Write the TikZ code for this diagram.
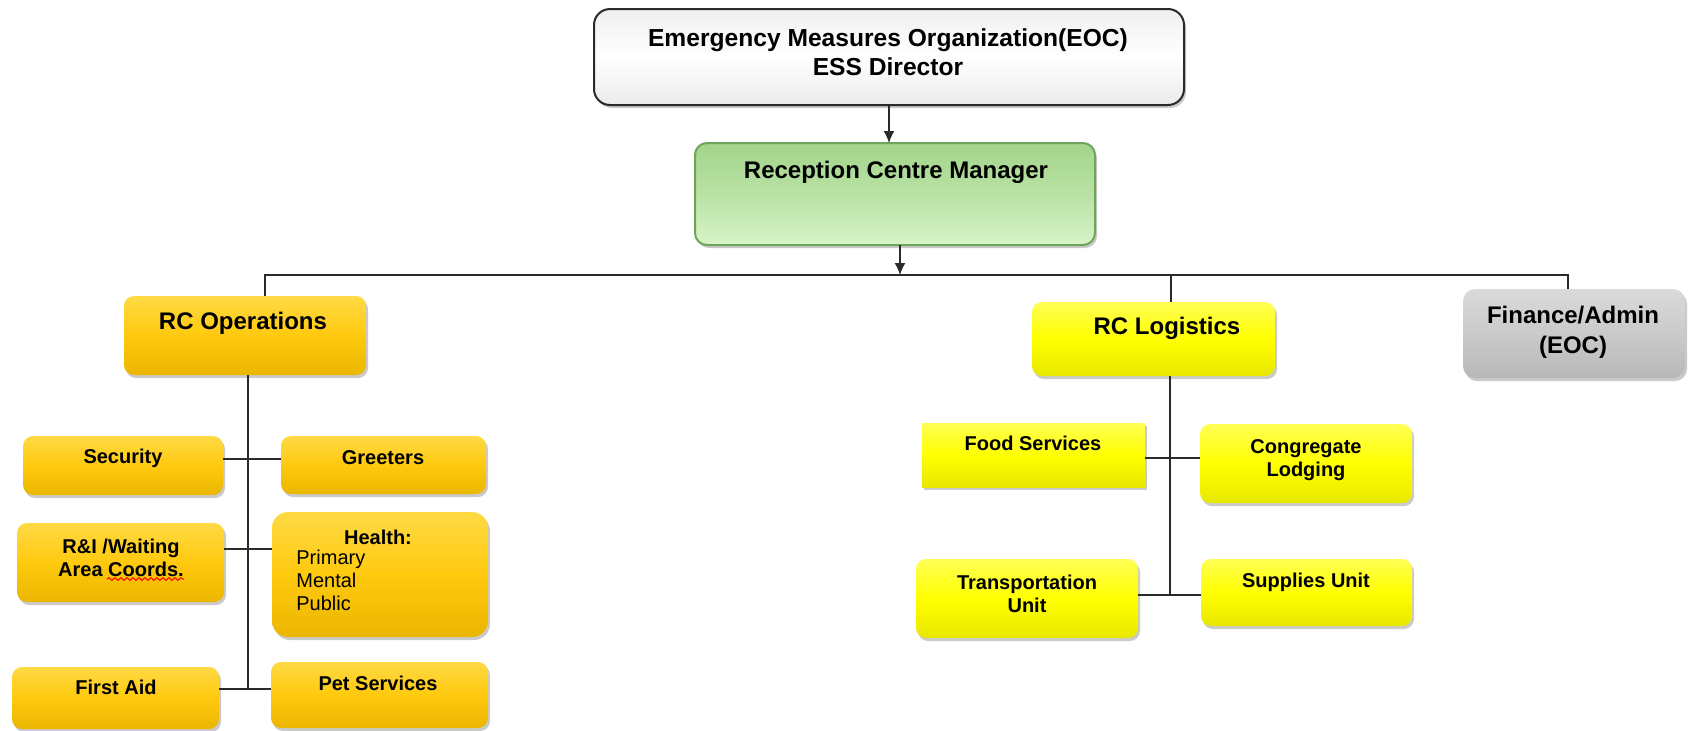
\documentclass[tikz,border=0pt]{standalone}
\usepackage{fontspec}
\setmainfont{Liberation Sans}
\usetikzlibrary{fit,shadows,arrows.meta,decorations.pathmorphing}
\definecolor{goldA}{HTML}{FFDA45}
\definecolor{goldB}{HTML}{FFC90E}
\definecolor{goldC}{HTML}{EBB600}
\definecolor{yelA}{HTML}{FFFF55}
\definecolor{yelB}{HTML}{FFFF00}
\definecolor{yelC}{HTML}{E8E800}
\definecolor{grnA}{HTML}{A2D48A}
\definecolor{grnB}{HTML}{B9E2A5}
\definecolor{grnC}{HTML}{D8F4C8}
\definecolor{grnD}{HTML}{6FA558}
\definecolor{gryA}{HTML}{DADADA}
\definecolor{gryB}{HTML}{CACACA}
\definecolor{gryC}{HTML}{B8B8B8}
\definecolor{linec}{HTML}{2A2A2A}
\tikzset{
  boxbase/.style={inner sep=0pt, outer sep=0pt,
    drop shadow={shadow xshift=1pt, shadow yshift=-1.5pt, opacity=0.35, fill=black!60}},
  goldbox/.style={boxbase, rounded corners=5pt, top color=goldA, bottom color=goldC, middle color=goldB},
  yelbox/.style={boxbase, rounded corners=5pt, top color=yelA, bottom color=yelC, middle color=yelB},
  yelsharp/.style={boxbase, top color=yelA, bottom color=yelC, middle color=yelB},
  grnbox/.style={boxbase, rounded corners=6pt, draw=grnD, line width=1pt, top color=grnA, bottom color=grnC, middle color=grnB},
  grybox/.style={boxbase, rounded corners=6pt, top color=gryA, bottom color=gryC, middle color=gryB},
  topbox/.style={boxbase, rounded corners=8pt, draw=linec, line width=1pt, top color=black!6, bottom color=black!8, middle color=white},
  bigtxt/.style={inner sep=0pt, align=center, font=\bfseries\fontsize{12}{15}\selectfont},
  toptxt/.style={inner sep=0pt, align=center, font=\bfseries\fontsize{12.3}{14.5}\selectfont},
  smtxt/.style={inner sep=0pt, align=center, font=\bfseries\fontsize{10}{11.5}\selectfont},
  listtxt/.style={inner sep=0pt, align=left, font=\fontsize{10}{11.5}\selectfont},
  conn/.style={draw=linec, line width=0.75pt},
  arr/.style={conn, -{Latex[length=6pt,width=5.5pt]}}
}
\begin{document}
\begin{tikzpicture}[x=0.5pt,y=-0.5pt]
\useasboundingbox (0,0) rectangle (1688,730);

% boxes
\node[topbox, fit={(594,9) (1184,105)}] (top) {};
\node[grnbox, fit={(695,143) (1095,245)}] (mgr) {};
\node[goldbox, fit={(124,296) (366,375)}] (ops) {};
\node[yelbox, fit={(1032,302) (1275,376)}] (log) {};
\node[grybox, fit={(1463,289) (1685,378)}] (fin) {};
\node[goldbox, fit={(23,436) (223,495)}] (sec) {};
\node[goldbox, fit={(281,436) (486,494)}] (gre) {};
\node[goldbox, fit={(17,523) (224,602)}] (ri) {};
\node[goldbox, rounded corners=8pt, fit={(272,512) (488,637)}] (hea) {};
\node[goldbox, fit={(12,667) (219,729)}] (fa) {};
\node[goldbox, fit={(271,662) (488,728)}] (pet) {};
\node[yelsharp, fit={(922,423) (1145,487)}] (food) {};
\node[yelbox, fit={(1200,424) (1412,503)}] (cong) {};
\node[yelbox, fit={(916,559) (1138,638)}] (trans) {};
\node[yelbox, fit={(1201,559) (1412,626)}] (sup) {};

% texts
\node[toptxt] (ttop) at (888,52.5) {Emergency Measures Organization(EOC)\\ESS Director};
\node[bigtxt] (tmgr) at (896,172) {Reception Centre Manager};
\node[bigtxt] (tops) at (243,323) {RC Operations};
\node[bigtxt] (tlog) at (1167,328) {RC Logistics};
\node[bigtxt] (tfin) at (1573,332) {Finance/Admin\\(EOC)};
\node[smtxt] (tsec) at (123,458) {Security};
\node[smtxt] (tgre) at (383,458) {Greeters};
\node[smtxt] (tri) at (121,557.5) {R\&I /Waiting\\Area Coords.};
\node[smtxt] (thea) at (378,537) {Health:};
\node[listtxt, anchor=north west] (thl) at (296,550) {Primary\\Mental\\Public};
\node[smtxt] (tfa) at (116,687) {First Aid};
\node[smtxt] (tpet) at (378,683) {Pet Services};
\node[smtxt] (tfood) at (1033,443) {Food Services};
\node[smtxt] (tcong) at (1306,460.5) {Congregate\\Lodging};
\node[smtxt] (ttrans) at (1027,593.5) {Transportation\\Unit};
\node[smtxt] (tsup) at (1306,582) {Supplies Unit};

% spell-check squiggle
\draw[red, line width=0.5pt, decorate, decoration={snake, amplitude=0.7pt, segment length=3pt}] (107,579) -- (184,579);

% junction coordinates
\coordinate (j0) at (900,275);
\coordinate (hL) at (265,275);
\coordinate (hM) at (1171,275);
\coordinate (hR) at (1568,275);
\coordinate (c1) at (248,459);
\coordinate (c2) at (248,549);
\coordinate (c3) at (248,689);
\coordinate (c4) at (1170,458);
\coordinate (c5) at (1170,595);

% connectors
\draw[arr] (top.south) -- (top.south |- mgr.north);
\draw[arr] (mgr.south -| j0) -- (j0);
\draw[conn] (hL |- ops.north) -- (hL) -- (hR) -- (hR |- fin.north);
\draw[conn] (hM) -- (hM |- log.north);
\draw[conn] (ops.south -| c3) -- (c3);
\draw[conn] (sec.east |- c1) -- (gre.west |- c1);
\draw[conn] (ri.east |- c2) -- (hea.west |- c2);
\draw[conn] (fa.east |- c3) -- (pet.west |- c3);
\draw[conn] (log.south -| c5) -- (c5);
\draw[conn] (food.east |- c4) -- (cong.west |- c4);
\draw[conn] (trans.east |- c5) -- (sup.west |- c5);
\end{tikzpicture}
\end{document}
